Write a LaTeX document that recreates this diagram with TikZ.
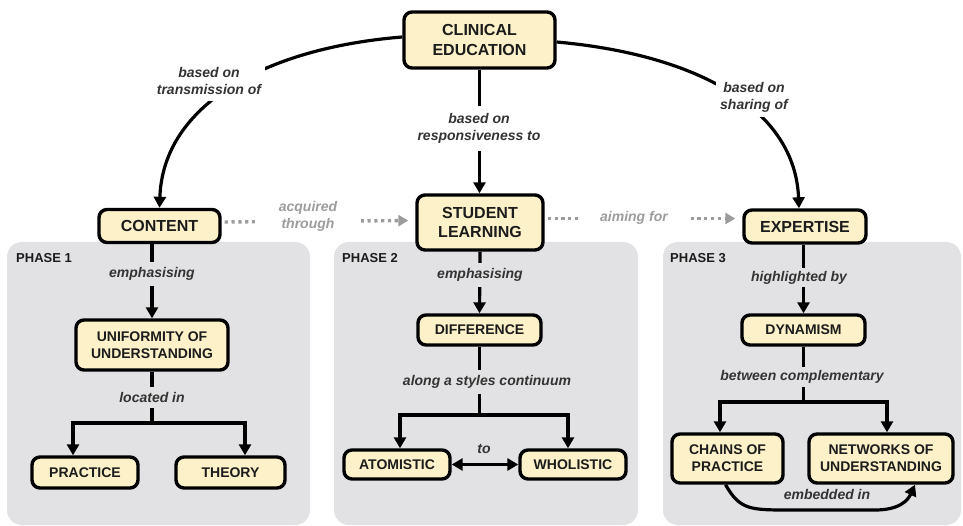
\documentclass[tikz,border=0pt]{standalone}
\usepackage{fontspec}
\setmainfont{Liberation Sans}
\usetikzlibrary{arrows.meta}
\definecolor{cream}{HTML}{FCF1C8}
\definecolor{panel}{HTML}{E2E1E3}
\definecolor{lblcol}{HTML}{333333}
\definecolor{dotcol}{HTML}{9C9C9C}
\definecolor{boxtext}{HTML}{1C1C1C}
\begin{document}
\begin{tikzpicture}[x=1pt,y=-1pt,
  box/.style={draw=black, line width=3.4pt, rounded corners=8pt, fill=cream, align=center, text=boxtext,
    font=\bfseries\fontsize{14}{17}\selectfont, inner sep=2pt},
  bigbox/.style={box, font=\bfseries\fontsize{16}{19.5}\selectfont},
  lbl/.style={font=\bfseries\itshape\fontsize{14}{17}\selectfont, text=lblcol, align=center, inner xsep=4pt, inner ysep=5pt},
  glbl/.style={lbl, text=dotcol, fill=white},
  conn/.style={line width=3.2pt, draw=black},
  arr/.style={conn, -{Triangle[length=11pt,width=12pt]}},
  dots/.style={line width=3.4pt, draw=dotcol, dash pattern=on 3.2pt off 3.6pt,
    -{Triangle[length=10pt,width=11pt,fill=dotcol]}, shorten <=3pt, shorten >=7pt},
  phase/.style={font=\bfseries\fontsize{13}{15}\selectfont, text=boxtext, inner sep=1pt, anchor=west}
]
\useasboundingbox (0,0) rectangle (963,526);
\fill[white] (0,0) rectangle (963,526);
% panels
\fill[panel, rounded corners=15pt] (7,242) rectangle (310,525);
\fill[panel, rounded corners=15pt] (334,242) rectangle (638,525);
\fill[panel, rounded corners=15pt] (663,242) rectangle (961,525);
\node[phase] (ph1) at (15,258) {PHASE 1};
\node[phase] (ph2) at (341,258) {PHASE 2};
\node[phase] (ph3) at (669,258) {PHASE 3};

% boxes
\node[bigbox, minimum width=151pt, minimum height=56pt] (clin) at (479.5,40) {CLINICAL\\EDUCATION};
\node[bigbox, minimum width=121pt, minimum height=33pt] (content) at (159.5,226) {CONTENT};
\node[bigbox, minimum width=126pt, minimum height=55pt] (student) at (480,222.5) {STUDENT\\LEARNING};
\node[bigbox, minimum width=122pt, minimum height=33pt] (expertise) at (805,226.5) {EXPERTISE};
\node[box, minimum width=152pt, minimum height=50pt] (unif) at (152,345) {UNIFORMITY OF\\UNDERSTANDING};
\node[box, minimum width=106pt, minimum height=31pt] (practice) at (85,472.5) {PRACTICE};
\node[box, minimum width=109pt, minimum height=31pt] (theory) at (230.5,472.5) {THEORY};
\node[box, minimum width=123pt, minimum height=30pt] (diff) at (479.5,330) {DIFFERENCE};
\node[box, minimum width=106pt, minimum height=29pt] (atom) at (397,464.5) {ATOMISTIC};
\node[box, minimum width=106pt, minimum height=29pt] (whol) at (573,464.5) {WHOLISTIC};
\node[box, minimum width=123pt, minimum height=30pt] (dyn) at (803.5,330) {DYNAMISM};
\node[box, minimum width=111pt, minimum height=49pt] (chains) at (727.5,458.5) {CHAINS OF\\PRACTICE};
\node[box, minimum width=144pt, minimum height=49pt] (networks) at (881,458.5) {NETWORKS OF\\UNDERSTANDING};

% top connectors
\draw[arr] ([yshift=3pt]clin.west) .. controls (265,48) and (163,105) .. (content.north);
\draw[arr] (clin.south) -- (clin.south |- student.north);
\draw[arr] ([yshift=-2pt]clin.east) .. controls (700,55) and (795,110) .. ([xshift=-6pt]expertise.north);
\node[lbl, fill=white, inner ysep=6pt] (l1) at (209,81) {based on\\transmission of};
\node[lbl, fill=white, inner ysep=7pt] (l2) at (479,128.5) {based on\\responsiveness to};
\node[lbl, fill=white] (l3) at (754,97) {based on\\sharing of};

% dotted connectors
\draw[dots] ([yshift=4pt]content.east) -- ([yshift=2pt]student.west);
\node[glbl, inner xsep=24pt] (l4) at (308,216.5) {acquired\\through};
\draw[dots] ([yshift=4pt]student.east) -- ([yshift=8pt]expertise.west);
\node[glbl, inner xsep=20pt] (l5) at (634,218) {aiming for};

% phase 1
\draw[arr] (unif.north |- content.south) -- (unif.north);
\node[lbl, fill=panel] (l6) at (152,274) {emphasising};
\coordinate (j1) at (152,423);
\draw[conn] (unif.south) -- (j1);
\node[lbl, fill=panel] (l7) at (152,397.5) {located in};
\draw[arr] (j1) -| ([xshift=-12pt]practice.north);
\draw[arr] (j1) -| ([xshift=14.5pt]theory.north);

% phase 2
\draw[arr] (student.south) -- (diff.north);
\node[lbl, fill=panel] (l8) at (480,275) {emphasising};
\coordinate (j2) at (479.5,415);
\draw[conn] (diff.south) -- (j2);
\node[lbl, fill=panel] (l9) at (487,382) {along a styles continuum};
\draw[arr] (j2) -| ([xshift=3pt]atom.north);
\draw[arr] (j2) -| ([xshift=-5pt]whol.north);
\draw[conn, {Triangle[length=11pt,width=12pt]}-{Triangle[length=11pt,width=12pt]}] (atom.east) -- (whol.west);
\node[lbl] (l10) at (484,449) {to};

% phase 3
\draw[arr] (dyn.north |- expertise.south) -- (dyn.north);
\node[lbl, fill=panel, inner ysep=3pt] (l11) at (799,277.5) {highlighted by};
\coordinate (j3) at (803.5,402);
\draw[conn] (dyn.south) -- (j3);
\node[lbl, fill=panel, inner ysep=3pt] (l12) at (802,377) {between complementary};
\draw[arr] (j3) -| ([xshift=-7.5pt]chains.north);
\draw[arr] (j3) -| ([xshift=6pt]networks.north);
\draw[arr] ([xshift=-2pt]chains.south) .. controls (740,510) and (750,510) .. (790,510) -- (875,510) .. controls (900,510) and (908,500) .. ([xshift=34pt]networks.south);
\node[lbl] (l13) at (827,494) {embedded in};
\end{tikzpicture}
\end{document}
